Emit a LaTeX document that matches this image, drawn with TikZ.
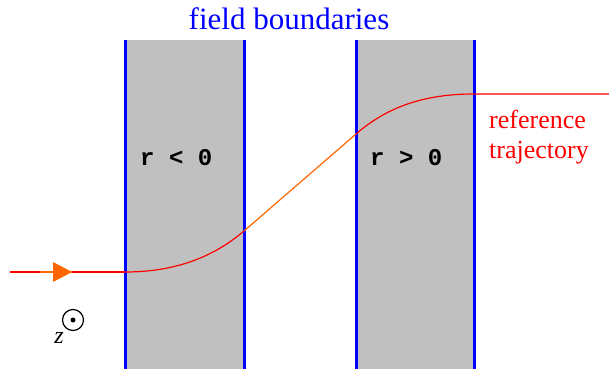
\documentclass[tikz,border=0pt]{standalone}
\usepackage{fontspec}
\setmainfont{Liberation Serif}
\newfontfamily\monof{Liberation Mono}
\definecolor{orng}{RGB}{255,102,0}
\definecolor{boxgray}{RGB}{192,192,192}
\begin{document}
\begin{tikzpicture}[x=1pt,y=-1pt,
  fieldbox/.style={fill=boxgray,draw=none},
  bnd/.style={draw=blue,line width=3pt},
  traj/.style={draw=red,line width=1.2pt},
  orngline/.style={draw=orng,line width=1.2pt},
  lbl/.style={font=\monof\bfseries\fontsize{24}{26}\selectfont,inner sep=0pt}]
\useasboundingbox (0,0) rectangle (609,369);
% boxes
\fill[fieldbox] (125,40) rectangle (244,369);
\fill[fieldbox] (356,40) rectangle (474,369);
\foreach \xx/\nm in {125/a,244/b,356/c,474/d}{
  \coordinate (\nm t) at (\xx,40);
  \coordinate (\nm b) at (\xx,369);
  \draw[bnd] (\nm t) -- (\nm b);
}
% trajectory
\coordinate (s0) at (10,272);
\coordinate (s1) at (40,272);
\coordinate (ar) at (72,272);
\coordinate (p1) at (125,272);
\coordinate (p2) at (244,231);
\coordinate (p3) at (356,134);
\coordinate (p4) at (474,94);
\coordinate (p5) at (609,94);
\draw[traj] (s0) -- (s1);
\draw[orngline] (s1) -- (ar);
\draw[traj] (ar) -- (p1);
\fill[orng] (72,272) -- (53,262) -- (53,282) -- cycle;
\draw[traj] (p1) .. controls (170,272) and (210,260) .. (p2);
\draw[orngline] (p2) -- (p3);
\draw[traj] (p3) .. controls (387,107) and (424,94) .. (p4) -- (p5);
% labels
\node[lbl,anchor=base west] (lneg) at (140,165) {r < 0};
\node[lbl,anchor=base west] (lpos) at (370,165) {r > 0};
\node[text=blue,font=\fontsize{31}{33}\selectfont,inner sep=0pt,anchor=base] (fb) at (289,30) {field boundaries};
\node[text=red,font=\fontsize{26}{30}\selectfont,inner sep=0pt,anchor=base west] (rt1) at (489,128) {reference};
\node[text=red,font=\fontsize{26}{30}\selectfont,inner sep=0pt,anchor=base west] (rt2) at (489,158) {trajectory};
% z symbol
\node[draw=black,circle,line width=1.2pt,minimum size=21pt,inner sep=0pt] (zc) at (73,320) {};
\fill (zc.center) circle (2.5pt);
\node[font=\itshape\fontsize{24}{26}\selectfont,inner sep=0pt,anchor=base] (zl) at (59,343) {z};
\end{tikzpicture}
\end{document}
